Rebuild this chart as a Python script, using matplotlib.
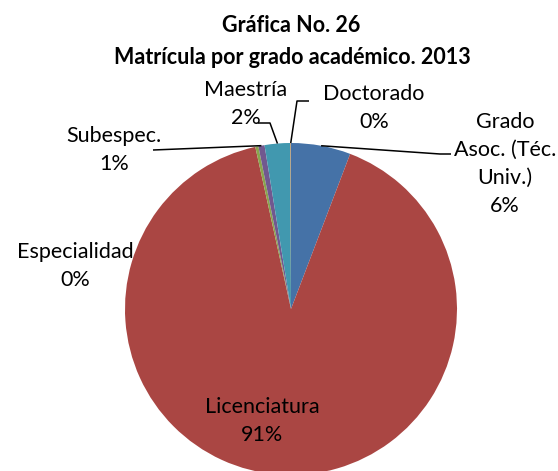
import numpy as np
import matplotlib
matplotlib.use('Agg')
import matplotlib.pyplot as plt

# data
categories = ['Grado\nAsoc. (Téc.\nUniv.)', 'Licenciatura', 'Especialidad',
              'Subespec.', 'Maestría', 'Doctorado']
values = [5.8, 90.75, 0.3, 0.6, 2.5, 0.05]
pct_labels = ['6%', '91%', '0%', '1%', '2%', '0%']
colors = ['#4572A7', '#AA4643', '#89A54E', '#71588F', '#4198AF', '#DB843D']

W, H = 558, 471
CX, CY, R = 291, 309, 166


def px(x, y):
    # pixel -> data coords (pie radius = 1)
    return (x - CX) / R, (CY - y) / R


plt.rcParams['font.family'] = ['Lato', 'DejaVu Sans']

fig = plt.figure(figsize=(W / 100, H / 100), dpi=100)
ax = fig.add_axes([0, 0, 1, 1])
wedges, _ = ax.pie(values, colors=colors, startangle=90, counterclock=False,
                   radius=1, wedgeprops=dict(linewidth=0))
ax.set_xlim(-CX / R, (W - CX) / R)
ax.set_ylim(-(H - CY) / R, CY / R)
ax.set_aspect('auto')
ax.axis('off')

# label centres (pixels) and leader elbows
label_pos = {
    0: (505, 164),
    1: (262, 421),
    2: (75, 266),
    3: (114, 150),
    4: (246, 104),
    5: (374, 108),
}
leaders = {
    0: [(440, 154), (451, 154)],
    3: [(153, 150)],
    4: [(270, 123), (258, 123)],
    5: [(297, 101), (309, 101)],
}

for i, w in enumerate(wedges):
    x, y = px(*label_pos[i])
    ax.text(x, y, categories[i] + '\n' + pct_labels[i], ha='center', va='center',
            fontsize=15.5, linespacing=1.5, color='black')
    if i in leaders:
        ang = np.deg2rad((w.theta1 + w.theta2) / 2)
        pts = [(np.cos(ang), np.sin(ang))] + [px(*p) for p in leaders[i]]
        xs, ys = zip(*pts)
        ax.plot(xs, ys, color='black', lw=1.1, solid_capstyle='butt')

fig.text(291 / W, 1 - 25 / H, 'Gráfica No. 26', ha='center', va='center',
         fontsize=15.5, fontweight='bold')
fig.text(292 / W, 1 - 58 / H, 'Matrícula por grado académico. 2013', ha='center',
         va='center', fontsize=15.5, fontweight='bold')

fig.savefig('out.png', dpi=100)
